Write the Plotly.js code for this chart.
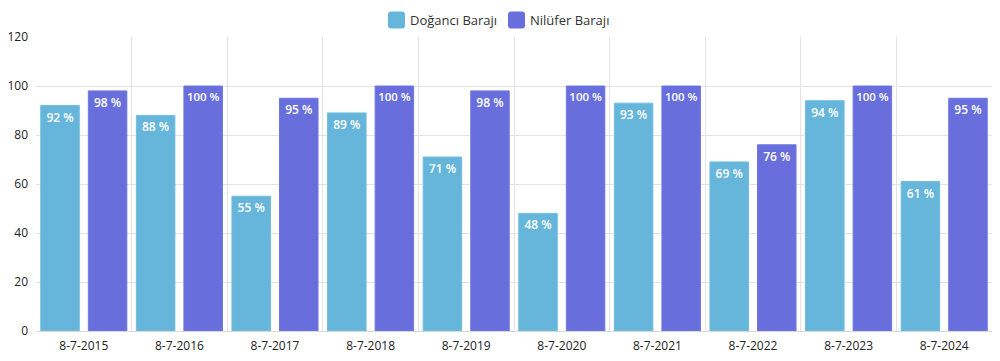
<!DOCTYPE html>
<html><head><meta charset="utf-8">
<script src="https://cdn.plot.ly/plotly-3.0.1.min.js"></script>
<style>body{margin:0;background:#fff}#c{width:1000px;height:361px}</style>
</head><body><div id="c"></div>
<script>
const categories = ["8-7-2015","8-7-2016","8-7-2017","8-7-2018","8-7-2019","8-7-2020","8-7-2021","8-7-2022","8-7-2023","8-7-2024"];
const dogancı = [92,88,55,89,71,48,93,69,94,61];
const nilufer = [98,100,95,100,98,100,100,76,100,95];
const seriesNames = ["Doğancı Barajı","Nilüfer Barajı"];
const seriesColors = ['#66b6db','#686fdd'];

function mk(name, vals, fill, line){
  return {type:'bar', name:name, x:categories, y:vals,
    text: vals.map(v=>v+' %'), textposition:'inside', insidetextanchor:'end', textangle:0,
    textfont:{family:'Open Sans', size:12, color:'#ffffff', weight:600},
    marker:{color:fill, line:{color:line, width:1}},
    hoverinfo:'none', cliponaxis:false, showlegend:false};
}
const data = [mk(seriesNames[0], dogancı, seriesColors[0], '#6fbde0'), mk(seriesNames[1], nilufer, seriesColors[1], '#7076e2')];

// custom legend (plot area: x 36..992, y 37..331)
const W = 956, H = 294;
const px = p => (p - 36) / W;
const py = p => (331 - p) / H;
const legendMarkers = [396.5, 516.5];
const legendTexts = [408, 528];
const r = 3, s = 8.5;
const roundSq = `M ${-s+r} ${-s} L ${s-r} ${-s} Q ${s} ${-s} ${s} ${-s+r} L ${s} ${s-r} Q ${s} ${s} ${s-r} ${s} L ${-s+r} ${s} Q ${-s} ${s} ${-s} ${s-r} L ${-s} ${-s+r} Q ${-s} ${-s} ${-s+r} ${-s} Z`;
const shapes = legendMarkers.map((m,i)=>({type:'path', xref:'paper', yref:'paper', xsizemode:'pixel', ysizemode:'pixel',
  xanchor:px(m), yanchor:py(20), path:roundSq, fillcolor:seriesColors[i], line:{width:0}}));
const annotations = legendTexts.map((t,i)=>({xref:'paper', yref:'paper', x:px(t), y:py(20), xanchor:'left', yanchor:'middle',
  text:seriesNames[i], showarrow:false, font:{family:'Open Sans', size:13, color:'#333'}}));

const layout = {
  width:1000, height:361,
  margin:{l:36, r:8, t:37, b:30},
  paper_bgcolor:'#fff', plot_bgcolor:'#fff',
  barmode:'group', bargap:0.005, bargroupgap:0.19,
  font:{family:'Open Sans', size:12, color:'#333'},
  showlegend:false,
  shapes:shapes, annotations:annotations,
  xaxis:{type:'category', tickson:'boundaries', showgrid:true, gridcolor:'#e3e3e3', gridwidth:1, ticks:'', showline:false, ticklabelstandoff:6, tickfont:{family:'Open Sans', size:12, color:'#222'}, fixedrange:true},
  yaxis:{range:[0,120], dtick:20, showgrid:true, gridcolor:'#e3e3e3', zeroline:true, zerolinecolor:'#d8d8d8', ticks:'', ticklabelstandoff:7, tickfont:{family:'Open Sans', size:12, color:'#222'}, fixedrange:true}
};
Plotly.newPlot('c', data, layout, {displayModeBar:false, staticPlot:true});
</script></body></html>
